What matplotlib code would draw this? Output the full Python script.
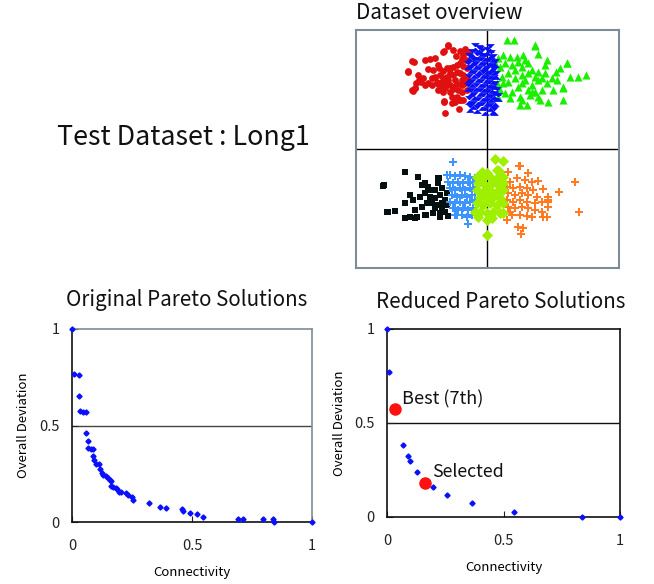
import matplotlib
matplotlib.use("Agg")
import matplotlib.pyplot as plt

plt.rcParams['font.family'] = ['Noto Sans CJK JP', 'DejaVu Sans']

# ---------------- Dataset overview (clusters) ----------------
red_pts = [(-39,103),(-43,98),(-34,99),(-27,98),(-22,100),(-19,97),(-24,94),(-31,93),(-25,90),(-21,89),
           (-52,91),(-57,90),(-62,89),(-75,88),(-73,87),(-79,78),(-69,74),(-71,66),(-74,58),(-68,69),
           (-66,67),(-59,80),(-54,79),(-49,84),(-48,81),(-44,78),(-40,81),(-37,81),(-34,82),(-30,84),
           (-27,86),(-24,83),(-20,81),(-55,64),(-59,66),(-50,67),(-47,74),(-44,71),(-40,72),(-37,76),
           (-34,74),(-30,77),(-27,76),(-24,74),(-20,71),(-19,67),(-22,66),(-25,64),(-30,65),(-34,62),
           (-37,64),(-40,66),(-45,62),(-49,59),(-44,57),(-34,60),(-29,59),(-25,57),(-30,52),(-35,52),
           (-27,49),(-43,47),(-32,47),(-24,49),(-37,57),(-20,59),(-52,72),(-64,71),(-62,64),(-49,65),
           (-42,61),(-32,69),(-25,69),(-39,69),(-45,67),(-55,71),(-72,61),(-42,36),(-28,40),(-35,46),
           (-43,48),(-31,49),(-27,49),(-39,104),(-44,97),(-75,59),(-72,61),(-79,77)]
blue_pts = [(-12,102),(-8,100),(-15,96),(-5,97),(0,98),(4,95),(-18,92),(-10,93),(-2,92),(6,91),
            (-14,88),(-6,88),(2,87),(8,86),(-19,84),(-11,84),(-3,83),(5,82),(-16,80),(-8,79),
            (0,79),(7,78),(-13,75),(-4,75),(3,74),(9,74),(-18,71),(-9,71),(-1,70),(6,69),
            (-15,66),(-6,66),(2,65),(8,64),(-19,62),(-11,62),(-3,61),(5,60),(10,58),(-16,57),
            (-7,57),(1,56),(7,54),(-13,53),(-4,52),(4,51),(-18,49),(-9,48),(0,47),(8,47),
            (-14,44),(-5,43),(3,42),(-10,40),(-17,41),(11,52),(-2,38),(7,38),(-7,99),(3,101),(6,39)]
green_pts = [(20,109),(27,109),(48,103),(51,95),(80,86),(73,81),(69,77),(60,89),(58,84),(83,72),
             (91,72),(99,74),(76,62),(66,59),(60,66),(51,69),(45,64),(38,69),(31,62),(25,57),
             (18,56),(13,59),(10,66),(15,72),(21,76),(28,79),(35,82),(41,86),(36,94),(30,92),
             (23,92),(16,94),(11,91),(8,86),(13,82),(18,86),(25,84),(31,87),(38,89),(45,79),
             (51,77),(58,76),(65,71),(70,69),(55,71),(48,72),(41,76),(35,74),(28,71),(21,67),
             (16,66),(35,66),(41,59),(48,57),(55,59),(43,54),(33,52),(11,52),(23,51),(51,52),
             (33,44),(40,44),(53,49),(61,47),(76,49),(76,61),(80,86),(48,104),(45,57),(35,49)]
black_pts = [(-82,-23),(-69,-28),(-103,-36),(-65,-36),(-62,-34),(-59,-38),(-49,-29),(-49,-34),(-52,-41),
             (-45,-39),(-77,-46),(-74,-51),(-67,-48),(-62,-44),(-57,-48),(-52,-49),(-47,-46),(-42,-51),
             (-45,-54),(-50,-56),(-55,-54),(-60,-54),(-65,-58),(-82,-54),(-72,-61),(-99,-63),(-92,-62),
             (-77,-68),(-70,-68),(-62,-66),(-54,-64),(-47,-64),(-42,-63),(-52,-59),(-45,-59),(-40,-56),
             (-40,-44),(-57,-41),(-82,-69),(-104,-37),(-100,-63),(-72,-69),(-61,-66),(-47,-68),
             (-39,-67),(-48,-29)]
lightblue_pts = [(-34,-13),(-40,-26),(-37,-26),(-32,-27),(-27,-26),(-22,-27),(-17,-28),(-12,-29),
                 (-39,-33),(-34,-34),(-29,-33),(-24,-34),(-19,-33),(-14,-34),(-37,-39),(-32,-41),
                 (-27,-39),(-22,-41),(-17,-39),(-12,-41),(-35,-46),(-30,-48),(-25,-46),(-20,-48),
                 (-15,-46),(-37,-53),(-32,-54),(-27,-53),(-22,-54),(-17,-53),(-12,-51),(-34,-59),
                 (-29,-61),(-24,-59),(-19,-61),(-14,-59),(-32,-66),(-25,-66),(-20,-68),(-15,-66),
                 (-19,-75),(-30,-66),(-37,-26)]
lime_pts = [(8,-10),(16,-12),(10,-21),(12,-22),(-5,-23),(0,-24),(-10,-28),(-4,-29),(3,-28),(10,-29),
            (16,-28),(-9,-34),(-2,-36),(5,-34),(11,-36),(16,-34),(-10,-41),(-4,-43),(3,-41),(10,-43),
            (16,-41),(-7,-48),(0,-49),(6,-48),(13,-49),(-10,-54),(-4,-56),(3,-54),(10,-56),(16,-54),
            (-7,-63),(0,-64),(6,-63),(13,-64),(0,-71),(0,-86),(-9,-68),(5,-69),(-12,-63),(16,-64)]
orange_pts = [(33,-17),(21,-23),(41,-24),(88,-33),(72,-43),(56,-40),(51,-32),(45,-33),(38,-31),(30,-29),
              (23,-33),(20,-38),(26,-39),(33,-38),(40,-39),(46,-41),(21,-44),(28,-46),(35,-44),(41,-46),
              (50,-48),(61,-48),(61,-53),(61,-58),(55,-53),(20,-51),(26,-53),(33,-51),(40,-53),(48,-54),
              (21,-58),(28,-59),(35,-58),(41,-59),(48,-61),(55,-63),(60,-68),(25,-66),(33,-66),(40,-67),
              (92,-63),(23,-63),(32,-17),(31,-78),(34,-85),(36,-79),(20,-71),(45,-68),(56,-68),(61,-51)]

# ---------------- Pareto fronts ----------------
orig_conn = [0.0,0.007,0.031,0.029,0.035,0.046,0.058,0.057,0.065,0.068,0.078,0.086,0.089,0.091,0.099,
             0.111,0.118,0.123,0.131,0.141,0.148,0.157,0.163,0.163,0.171,0.182,0.188,0.195,0.203,0.224,
             0.235,0.252,0.256,0.322,0.365,0.393,0.458,0.462,0.492,0.519,0.545,0.692,0.712,0.794,0.838,
             0.840,1.0]
orig_dev = [1.0,0.767,0.764,0.653,0.576,0.572,0.572,0.460,0.421,0.384,0.376,0.376,0.340,0.319,0.302,
            0.300,0.274,0.253,0.241,0.236,0.228,0.219,0.210,0.188,0.179,0.176,0.171,0.157,0.157,0.152,
            0.138,0.129,0.116,0.098,0.076,0.072,0.069,0.059,0.047,0.041,0.026,0.017,0.016,0.016,0.016,
            0.0,0.0]
red_conn = [0.0,0.009,0.067,0.090,0.100,0.129,0.196,0.257,0.364,0.544,0.839,1.0]
red_dev = [1.0,0.769,0.383,0.324,0.299,0.242,0.157,0.116,0.075,0.027,0.002,0.0]
best_pt = (0.036, 0.575)
selected_pt = (0.164, 0.183)

W, H = 654, 584
fig = plt.figure(figsize=(W/100, H/100), dpi=100)

def fx(px):
    return px / W
def fy(py):
    return 1 - py / H

# Overview axes
ax0 = fig.add_axes([fx(356), fy(268), 263/W, 238/H])
ax0.set_xlim(-131, 132)
ax0.set_ylim(-119, 119)
ax0.set_xticks([]); ax0.set_yticks([])
for s in ax0.spines.values():
    s.set_color('#7d8c96'); s.set_linewidth(1.5)
ax0.axhline(0, color='black', lw=1.0, zorder=1)
ax0.axvline(0, color='black', lw=1.0, zorder=1)
hourglass = [(-1, 1), (1, 1), (-1, -1), (1, -1)]
def sc(pts, **kw):
    xs = [p[0] for p in pts]; ys = [p[1] for p in pts]
    ax0.scatter(xs, ys, linewidths=0, zorder=3, **kw)
sc(red_pts, marker='o', s=24, color='#e01010')
sc(green_pts, marker='^', s=34, color='#19f000')
sc(blue_pts, marker=hourglass, s=40, color='#0a10f5')
sc(black_pts, marker='s', s=24, color='#061010')
sc(orange_pts, marker='P', s=36, color='#ff7a20')
sc(lightblue_pts, marker='P', s=36, color='#3c95ff')
sc(lime_pts, marker='D', s=32, color='#9ff000')
fig.text(fx(356), fy(13), 'Dataset overview', fontsize=14.9, ha='left', va='center', color='#111')

fig.text(fx(57), fy(138), 'Test Dataset : Long1', fontsize=19.3, ha='left', va='center', color='#111')

def pareto_axes(rect, frame_col, grid_col):
    ax = fig.add_axes(rect)
    ax.set_xlim(0, 1); ax.set_ylim(0, 1)
    ax.set_xticks([0, 0.5, 1]); ax.set_yticks([0, 0.5, 1])
    ax.set_xticklabels(['0', '0.5', '1']); ax.set_yticklabels(['0', '0.5', '1'])
    ax.tick_params(direction='in', length=4, width=0.8, labelsize=10.5, pad=9, colors='#222')
    ax.tick_params(axis='x', pad=12)
    ax.spines['left'].set_color('#111'); ax.spines['bottom'].set_color('#111')
    ax.spines['top'].set_color(frame_col); ax.spines['right'].set_color(frame_col)
    for s in ax.spines.values():
        s.set_linewidth(1.2)
    ax.axhline(0.5, color=grid_col, lw=1.0, zorder=1)
    return ax

ax1 = pareto_axes([fx(72), fy(522), 240/W, 193/H], '#7d8c96', '#444444')
ax1.plot(orig_conn, orig_dev, 'D', ms=2.6, color='#0a10ff', clip_on=False, zorder=3)
ax1.set_xlabel('Connectivity', fontsize=9.5, va='center')
ax1.xaxis.set_label_coords(0.5, -0.264)
ax1.set_ylabel('Overall Deviation', fontsize=9.5, va='center')
ax1.yaxis.set_label_coords(-0.204, 0.5)
fig.text(fx(187), fy(300), 'Original Pareto Solutions', fontsize=14.8, ha='center', va='center', color='#111')

ax2 = pareto_axes([fx(387), fy(517), 233/W, 188/H], '#111111', '#111111')
ax2.plot(red_conn, red_dev, 'D', ms=2.6, color='#0a10ff', clip_on=False, zorder=3)
ax2.plot([best_pt[0], selected_pt[0]], [best_pt[1], selected_pt[1]], 'o', ms=8, color='#ff1010',
         clip_on=False, zorder=4)
ax2.text(0.064, 0.628, 'Best (7th)', fontsize=13, ha='left', va='center', color='#111')
ax2.text(0.193, 0.239, 'Selected', fontsize=12.8, ha='left', va='center', color='#111')
ax2.set_xlabel('Connectivity', fontsize=9.5, va='center')
ax2.xaxis.set_label_coords(0.5, -0.266)
ax2.set_ylabel('Overall Deviation', fontsize=9.5, va='center')
ax2.yaxis.set_label_coords(-0.206, 0.5)
fig.text(fx(501), fy(302), 'Reduced Pareto Solutions', fontsize=14.8, ha='center', va='center', color='#111')

fig.savefig('out.png', dpi=100)
